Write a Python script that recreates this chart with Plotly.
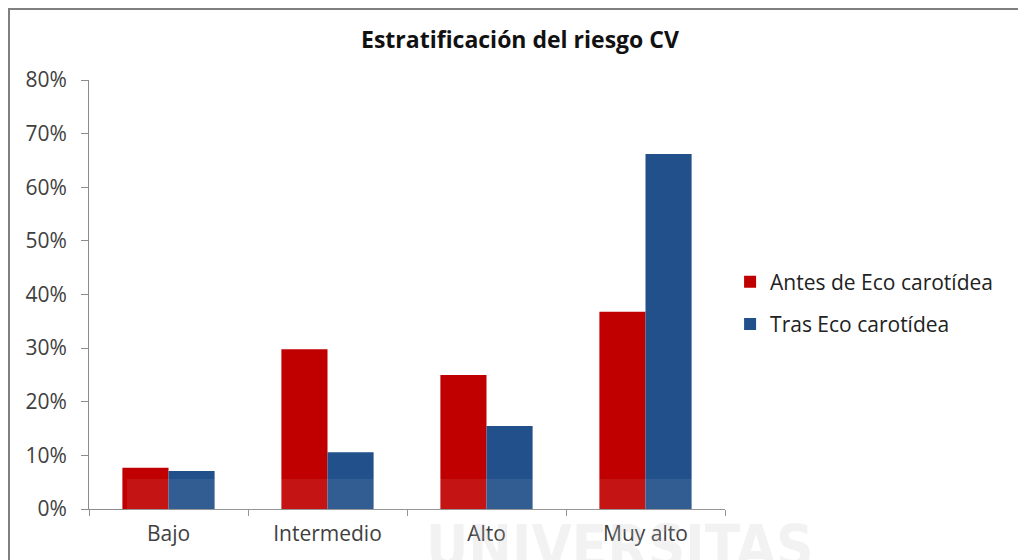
import plotly.graph_objects as go

categories = ["Bajo", "Intermedio", "Alto", "Muy alto"]
antes = [0.077, 0.298, 0.250, 0.368]
tras = [0.071, 0.106, 0.155, 0.662]
series_names = ["Antes de Eco carotídea", "Tras Eco carotídea"]
y_ticks = [0, 0.1, 0.2, 0.3, 0.4, 0.5, 0.6, 0.7, 0.8]
watermark = "UNIVERSITAS"

FONT = "Open Sans, Lato, sans-serif"
L, R, T, B = 81, 309, 72, 59
PW = 1026 - L - R
PH = 560 - T - B

fig = go.Figure()
fig.add_trace(go.Bar(x=categories, y=antes, name=series_names[0],
                     marker=dict(color="#C00000", line=dict(width=0)),
                     legendgroup="a"))
fig.add_trace(go.Bar(x=categories, y=tras, name=series_names[1],
                     marker=dict(color="#21508A", line=dict(width=0)),
                     legendgroup="b"))

fig.update_layout(
    width=1026, height=560,
    margin=dict(l=L, r=R, t=T, b=B),
    paper_bgcolor="white", plot_bgcolor="white",
    barmode="group", bargap=0.42, bargroupgap=0,
    title=dict(text="<b>Estratificación del riesgo CV</b>", x=0.499, xref="container",
               xanchor="center", y=0.943, yref="container", yanchor="middle",
               font=dict(family=FONT, size=23, color="#111111")),
    font=dict(family=FONT, size=20, color="#404040"),
    legend=dict(x=1.008, xanchor="left", y=0.48, yanchor="middle",
                font=dict(family=FONT, size=21, color="#222222"),
                traceorder="grouped", tracegroupgap=12,
                itemwidth=30, bgcolor="rgba(0,0,0,0)"),
    showlegend=True,
)
fig.update_yaxes(range=[0, 0.8], tickvals=y_ticks, tickformat=".0%",
                 showgrid=False, zeroline=False, showline=True, linecolor="#8C8C8C",
                 linewidth=1, ticks="outside", ticklen=7, tickcolor="#8C8C8C",
                 ticklabelstandoff=10,
                 tickfont=dict(family=FONT, size=21, color="#404040"))
fig.update_xaxes(showgrid=False, showline=True, linecolor="#8C8C8C", linewidth=1,
                 ticks="outside", tickson="boundaries", ticklen=6, tickcolor="#8C8C8C",
                 ticklabelstandoff=6,
                 tickfont=dict(family=FONT, size=21, color="#303030"))

# faint watermark overlay
fig.add_shape(type="rect", xref="paper", yref="paper",
              x0=(119 - L) / PW, x1=(812 - L) / PW, y0=-B / PH, y1=(PH + T - 471) / PH,
              line=dict(width=0), fillcolor="rgba(255,255,255,0.08)", layer="above")
fig.add_annotation(text="<b>" + watermark + "</b>", xref="paper", yref="paper",
                   x=(612 - L) / PW, y=(PH + T - 503) / PH,
                   xanchor="center", yanchor="top", showarrow=False,
                   font=dict(family="DejaVu Sans Condensed, Liberation Sans Narrow, sans-serif",
                             size=58, color="rgba(190,190,190,0.20)"))

# chart border
fig.add_shape(type="rect", xref="paper", yref="paper",
              x0=(1 - L) / PW, x1=(1014 - L) / PW, y0=-(B + 20) / PH, y1=(PH + T - 1) / PH,
              line=dict(color="#7F7F7F", width=2), fillcolor="rgba(0,0,0,0)", layer="below")

fig.write_html("out.html")
